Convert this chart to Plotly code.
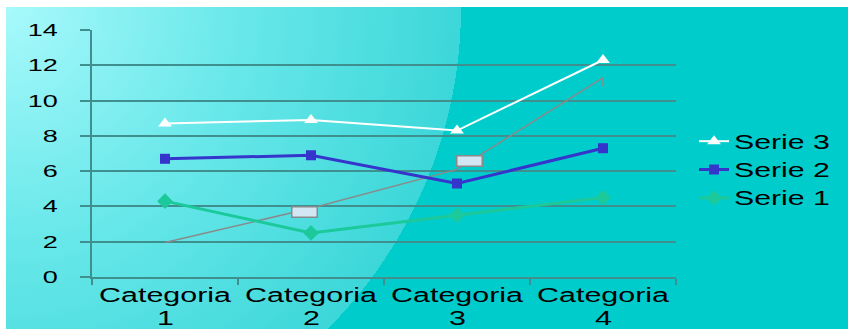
import base64
import plotly.graph_objects as go

categories = ["Categoria 1", "Categoria 2", "Categoria 3", "Categoria 4"]
serie1 = [4.3, 2.5, 3.5, 4.5]
serie2 = [6.7, 6.9, 5.3, 7.3]
serie3 = [8.7, 8.9, 8.3, 12.3]
trend = [1.95, 3.9, 6.1, 11.3]
trend_drop = [0, 0, 0, 0.5]
box_cats = ["Categoria 2", "Categoria 3"]
box_vals = [3.7, 6.6]
box_shift = [-7, 12]

W, H = 848, 329
L, R, T, B = 92, 172, 30, 52
PW, PH = W - L - R, H - T - B

svg = f'''<svg xmlns="http://www.w3.org/2000/svg" width="{W}" height="{H}" viewBox="0 0 {W} {H}" preserveAspectRatio="none">
<defs><radialGradient id="g" cx="6" cy="7" r="455" gradientUnits="userSpaceOnUse">
<stop offset="0" stop-color="#a8f9fb"/><stop offset="0.5" stop-color="#6ae8ea"/><stop offset="1" stop-color="#3cd7d9"/>
<stop offset="1" stop-color="#00cccc"/></radialGradient></defs>
<rect x="0" y="0" width="{W}" height="{H}" fill="#ffffff"/>
<rect x="6" y="7" width="{W}" height="{H}" fill="#00cccc"/>
<rect x="6" y="7" width="{W}" height="{H}" fill="url(#g)"/>
</svg>'''
src = "data:image/svg+xml;base64," + base64.b64encode(svg.encode()).decode()

FONT = "Liberation Sans, Arial, sans-serif"
grid = "#3f8f8f"

fig = go.Figure()
fig.add_trace(go.Scatter(
    x=categories, y=trend, mode="lines", showlegend=False,
    line=dict(color="#8a8a8a", width=1.5),
    error_y=dict(type="data", symmetric=False, array=[0]*4, arrayminus=trend_drop,
                 width=0, color="#8a8a8a", thickness=1.5),
    hoverinfo="skip"))
fig.add_trace(go.Scatter(
    x=categories, y=serie1, mode="lines+markers", name="Serie 1",
    line=dict(color="#1cc99a", width=3),
    marker=dict(symbol="diamond", size=12, color="#1cc99a")))
fig.add_trace(go.Scatter(
    x=categories, y=serie2, mode="lines+markers", name="Serie 2",
    line=dict(color="#3535cc", width=3),
    marker=dict(symbol="square", size=10, color="#3535cc")))
fig.add_trace(go.Scatter(
    x=categories, y=serie3, mode="lines+markers", name="Serie 3",
    line=dict(color="#ffffff", width=2),
    marker=dict(symbol="triangle-up", size=12, color="#ffffff")))

for c, v, s in zip(box_cats, box_vals, box_shift):
    fig.add_annotation(x=c, y=v, xref="x", yref="y", text=" ", showarrow=False,
                       xshift=s, width=22, height=7, bgcolor="#d2e6f4",
                       bordercolor="#8a8a8a", borderwidth=1.5, borderpad=1,
                       font=dict(size=4))

# second line of each category label (the number)
for c in categories:
    fig.add_annotation(x=c, y=0, xref="x", yref="y", text=c.split(" ")[1],
                       showarrow=False, yshift=-41, yanchor="middle",
                       font=dict(size=19.5, family=FONT, color="#000000"))

fig.update_layout(
    width=W, height=H,
    margin=dict(l=L, r=R, t=T, b=B, pad=0, autoexpand=False),
    paper_bgcolor="#00cccc", plot_bgcolor="rgba(0,0,0,0)",
    font=dict(family=FONT, color="#000000"),
    images=[dict(source=src, xref="paper", yref="paper", x=-L/PW, y=1+T/PH,
                 sizex=W/PW, sizey=H/PH, xanchor="left", yanchor="top",
                 sizing="stretch", layer="below")],
    legend=dict(x=(694-L)/PW, y=(277-170)/PH, xanchor="left", yanchor="middle",
                traceorder="reversed", font=dict(size=19.5, family=FONT),
                bgcolor="rgba(0,0,0,0)", itemwidth=30, tracegroupgap=0),
    showlegend=True,
)
fig.update_xaxes(
    type="category", range=[-0.5, 3.5], showgrid=False, automargin=False,
    tickmode="array", tickvals=categories, ticktext=[c.split(" ")[0] for c in categories],
    showline=True, linecolor=grid, linewidth=1.5,
    ticks="outside", tickson="boundaries", ticklen=6, tickcolor=grid, tickwidth=1.5,
    tickfont=dict(size=19.5, family=FONT, color="#000000"), tickangle=0,
    zeroline=False, fixedrange=True)
fig.update_yaxes(
    range=[0, 14], dtick=2, showgrid=True, gridcolor=grid, gridwidth=1.5,
    showline=True, linecolor=grid, linewidth=1.5, automargin=False,
    ticks="outside", ticklen=10, tickcolor=grid, tickwidth=1.5,
    ticklabelstandoff=19,
    tickfont=dict(size=17, family=FONT, color="#000000"),
    zeroline=False, fixedrange=True)

# the reference's text is horizontally stretched (~1.56x); reproduce with SVG textLength
post = """
var gd = document.getElementById('{plot_id}');
function st(sel, f) {
  gd.querySelectorAll(sel).forEach(function (t) {
    var w = t.getComputedTextLength();
    if (w > 1) { t.setAttribute('textLength', (w * f).toFixed(2)); t.setAttribute('lengthAdjust', 'spacingAndGlyphs'); }
  });
}
st('.xtick text', 1.56); st('.ytick text', 1.59); st('.legendtext', 1.55); st('.annotation-text', 1.56);
gd.querySelectorAll('.legend [clip-path], .legend').forEach(function (e) { e.removeAttribute('clip-path'); });
"""

fig.write_html("out.html", post_script=post)
